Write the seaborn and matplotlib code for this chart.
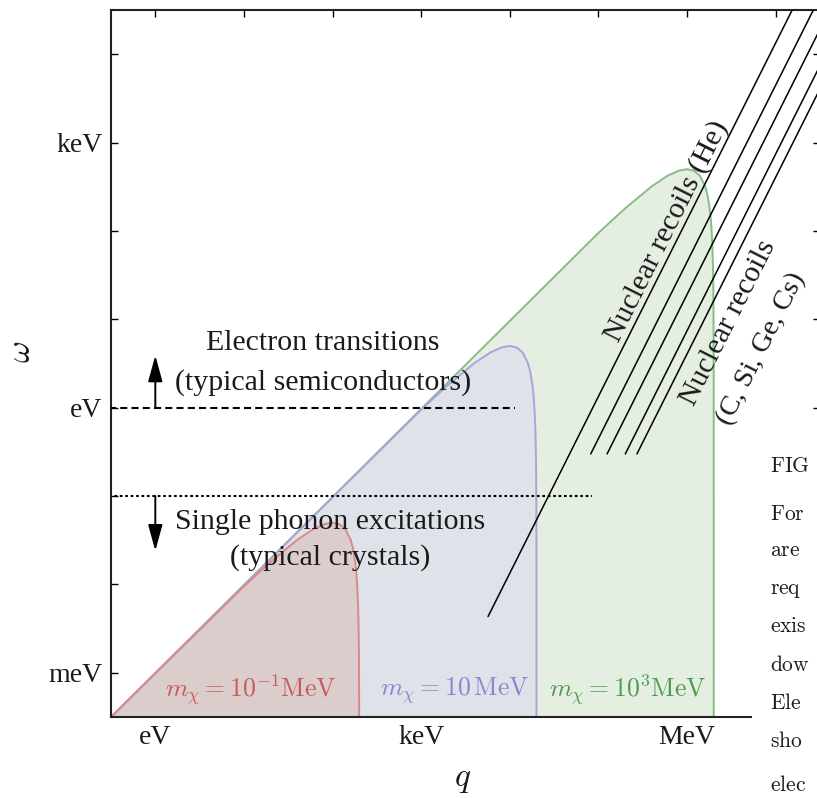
import matplotlib
matplotlib.use('Agg')
import matplotlib.pyplot as plt
import seaborn as sns
from matplotlib.patches import Rectangle

# ---------------- data (eV units) ----------------
# kinematically allowed regions: boundary points (q, omega)
q_red = [0.3, 10, 20, 40, 60, 80, 100, 120, 140, 160, 170, 180, 186, 190, 194, 196, 198, 199, 199.8, 200]
w_red = [3e-4, 0.0095, 0.018, 0.032, 0.042, 0.048, 0.05, 0.048, 0.042, 0.032, 0.0255, 0.018, 0.013,
         0.0095, 0.0058, 0.0039, 0.002, 0.001, 0.0002, 1e-6]
q_pur = [0.3, 1e3, 2e3, 4e3, 6e3, 8e3, 1e4, 1.2e4, 1.4e4, 1.6e4, 1.7e4, 1.8e4, 1.86e4, 1.9e4, 1.94e4,
         1.96e4, 1.98e4, 1.99e4, 1.998e4, 2e4]
w_pur = [3e-4, 0.95, 1.8, 3.2, 4.2, 4.8, 5.0, 4.8, 4.2, 3.2, 2.55, 1.8, 1.3, 0.95, 0.58, 0.39, 0.2, 0.1, 0.02, 1e-6]
q_grn = [0.3, 1e5, 2e5, 4e5, 6e5, 8e5, 1e6, 1.2e6, 1.4e6, 1.6e6, 1.7e6, 1.8e6, 1.86e6, 1.9e6, 1.94e6,
         1.96e6, 1.98e6, 1.99e6, 1.998e6, 2e6]
w_grn = [3e-4, 95, 180, 320, 420, 480, 500, 480, 420, 320, 255, 180, 130, 95, 58, 39, 20, 10, 2, 1e-6]
region_labels = [r'$m_\chi = 10^{-1}\mathrm{MeV}$', r'$m_\chi = 10\,\mathrm{MeV}$', r'$m_\chi = 10^{3}\mathrm{MeV}$']
region_label_q = [11.8, 2.4e3, 2.15e5]

# nuclear recoil lines (He, C, Si, Ge, Cs): start and end points
nuc_q_start = [5.68e3, 8.19e4, 1.252e5, 2.01e5, 2.72e5]
nuc_w_start = [4.33e-3, 0.3, 0.3, 0.3, 0.3]
nuc_q_end = [2.73e7, 4.73e7, 7.23e7, 1.16e8, 1.57e8]
nuc_w_end = [1e5, 1e5, 1e5, 1e5, 1e5]

# thresholds
electron_gap = 1.0      # eV
phonon_max = 0.1        # eV

x_ticks = [1e0, 1e1, 1e2, 1e3, 1e4, 1e5, 1e6, 1e7]
x_labels = ['eV', '', '', 'keV', '', '', 'MeV', '']
y_ticks = [1e-3, 1e-2, 1e-1, 1e0, 1e1, 1e2, 1e3, 1e4]
y_labels = ['meV', '', '', 'eV', '', '', 'keV', '']

caption_words = ['FIG', 'For', 'are', 'req', 'exis', 'dow', 'Ele', 'sho', 'elec']
caption_y_px = [467, 515, 552, 590, 628, 666, 704, 742, 786]

# ---------------- style ----------------
sns.set_theme(style='ticks')
plt.rcParams['font.family'] = ['Liberation Serif', 'DejaVu Serif']
plt.rcParams['mathtext.fontset'] = 'cm'
plt.rcParams['axes.unicode_minus'] = False

W, H = 817, 798
fig = plt.figure(figsize=(W / 100, H / 100), dpi=100)
ax = fig.add_axes([111 / W, 1 - 717 / H, (820 - 111) / W, (717 - 10) / H])
ax.set_xscale('log')
ax.set_yscale('log')
ax.set_xlim(10 ** -0.5, 10 ** 7.5)
ax.set_ylim(10 ** -3.5, 10 ** 4.5)

fills = ['#e4efe2', '#dfe2e9', '#dccdcd']
edges = ['#86bd86', '#aaa3dd', '#d98a88']
txtcols = ['#c85a5a', '#8c84d0', '#4f9a4f']
regions = [(q_grn, w_grn), (q_pur, w_pur), (q_red, w_red)]
for (q, w), fc in zip(regions, fills):
    ax.fill_between(q, 1e-7, w, color=fc, lw=0, zorder=1)
for (q, w), ec in zip(regions, edges):
    sns.lineplot(x=q, y=w, color=ec, lw=1.4, estimator=None, sort=False, ax=ax, zorder=2)

for qs, ws, qe, we in zip(nuc_q_start, nuc_w_start, nuc_q_end, nuc_w_end):
    sns.lineplot(x=[qs, qe], y=[ws, we], color='black', lw=1.1, estimator=None, sort=False, ax=ax, zorder=3)

# threshold lines
ax.plot([0.3, 1.15e4], [electron_gap, electron_gap], color='black', lw=1.5, ls=(0, (3.4, 2.0)), zorder=3)
ax.plot([0.3, 8.5e4], [phonon_max, phonon_max], color='black', lw=1.5, ls=(0, (1.3, 1.3)), zorder=3)
arrow_kw = dict(arrowstyle='-|>,head_length=0.8,head_width=0.22', color='black', lw=1.4,
                mutation_scale=20, shrinkA=0, shrinkB=0)
ax.annotate('', xy=(1, 3.9), xytext=(1, electron_gap), arrowprops=arrow_kw, zorder=4)
ax.annotate('', xy=(1, 0.024), xytext=(1, phonon_max), arrowprops=arrow_kw, zorder=4)

tc = '#1a1a1a'
fs = 21.5
ax.text(10 ** 1.894, 10 ** 0.736, 'Electron transitions', ha='center', va='center', fontsize=fs, color=tc)
ax.text(10 ** 1.894, 10 ** 0.283, '(typical semiconductors)', ha='center', va='center', fontsize=fs, color=tc)
ax.text(10 ** 1.973, 10 ** -1.29, 'Single phonon excitations', ha='center', va='center', fontsize=fs, color=tc)
ax.text(10 ** 1.973, 10 ** -1.70, '(typical crystals)', ha='center', va='center', fontsize=fs, color=tc)

for lab, ql, c in zip(region_labels, region_label_q, txtcols):
    ax.text(ql, 10 ** -3.2, lab, ha='center', va='center', fontsize=18.5, color=c)

rot = 63.3
ax.text(10 ** 5.775, 10 ** 2.0, 'Nuclear recoils (He)', ha='center', va='center', rotation=rot,
        rotation_mode='anchor', fontsize=fs, color=tc)
ax.text(10 ** 6.47, 10 ** 0.963, 'Nuclear recoils', ha='center', va='center', rotation=rot,
        rotation_mode='anchor', fontsize=fs, color=tc, clip_on=False)
ax.text(10 ** 6.84, 10 ** 0.668, '(C, Si, Ge, Cs)', ha='center', va='center', rotation=rot,
        rotation_mode='anchor', fontsize=20.5, color=tc, clip_on=False)

# axes styling
ax.set_xticks(x_ticks)
ax.set_xticklabels(x_labels)
ax.set_yticks(y_ticks)
ax.set_yticklabels(y_labels)
ax.minorticks_off()
ax.tick_params(which='both', direction='in', length=5, width=1, top=True, right=True,
               labelsize=20, colors='black', pad=6)
for t in ax.get_xticklabels() + ax.get_yticklabels():
    t.set_color(tc)
for s in ax.spines.values():
    s.set_linewidth(1.5)
    s.set_color('#222222')
ax.grid(False)

fig.text(22 / W, 1 - 352 / H, r'$\omega$', rotation=90, ha='center', va='center', fontsize=24, color=tc)
fig.text(463 / W, 1 - 780 / H, r'$q$', ha='center', va='center', fontsize=24, color=tc)

# caption column of the page overlapping the figure
fig.patches.append(Rectangle((752 / W, 0), 1 - 752 / W, 1 - 440 / H, transform=fig.transFigure,
                             facecolor='white', edgecolor='none', zorder=10))
for word, yp in zip(caption_words, caption_y_px):
    fig.text(770 / W, 1 - yp / H, r'$\mathrm{' + word + '}$', ha='left', va='center', fontsize=15.5,
             color=tc, zorder=11)

fig.savefig('out.png', dpi=100)
